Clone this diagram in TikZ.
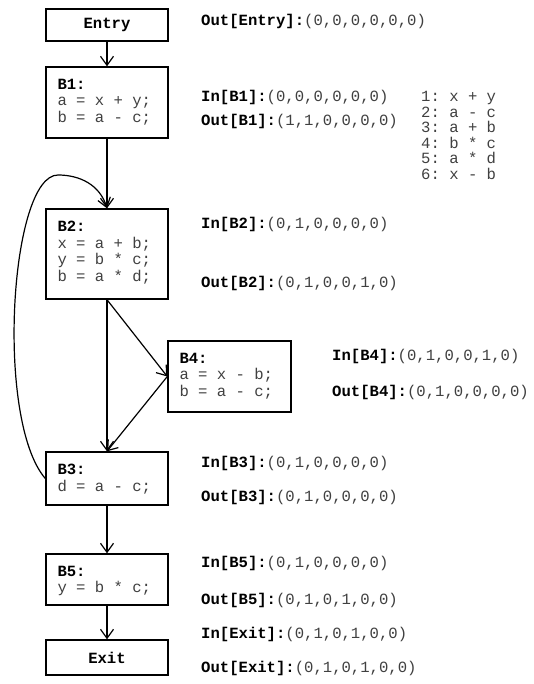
\documentclass[tikz,border=0pt]{standalone}
\usepackage{fontspec}
\setmonofont{Liberation Mono}
\usetikzlibrary{arrows.meta}
\newcommand\codefnt{\ttfamily\fontsize{15.6}{16.6}\selectfont}
\newcommand\lbl[1]{\textcolor{black}{\textbf{#1}}}
\tikzset{
  blk/.style={draw, line width=1.4pt, minimum width=122pt, inner sep=0, font=\codefnt},
  txt/.style={font=\codefnt, align=left, inner sep=0, anchor=north west, text=black!75},
  lab/.style={font=\codefnt, inner sep=0, anchor=west, text=black!75},
  arr/.style={-{Straight Barb[length=9pt,width=13pt,line width=1.2pt]}, line width=1.2pt}
}
\begin{document}
\begin{tikzpicture}[x=1pt,y=1pt]
\useasboundingbox (0,0) rectangle (533,-684);
% boxes
\node[blk, minimum height=32pt] (entry) at (107,-25) {\lbl{Entry}};
\node[blk, minimum height=71pt] (B1) at (107,-102.5) {};
\node[blk, minimum height=90pt] (B2) at (107,-254) {};
\node[blk, minimum height=71pt, minimum width=123pt] (B4) at (229.5,-376.5) {};
\node[blk, minimum height=53pt] (B3) at (107,-478.5) {};
\node[blk, minimum height=51pt] (B5) at (107,-579.5) {};
\node[blk, minimum height=35pt] (exit) at (107,-657.5) {\lbl{Exit}};
% box contents
\node[txt, xshift=12pt, yshift=-12.5pt] (B1t) at (B1.north west) {\lbl{B1:}\\a = x + y;\\b = a - c;};
\node[txt, xshift=12pt, yshift=-12.5pt] (B2t) at (B2.north west) {\lbl{B2:}\\x = a + b;\\y = b * c;\\b = a * d;};
\node[txt, xshift=12pt, yshift=-12.5pt] (B4t) at (B4.north west) {\lbl{B4:}\\a = x - b;\\b = a - c;};
\node[txt, xshift=12pt, yshift=-12.5pt] (B3t) at (B3.north west) {\lbl{B3:}\\d = a - c;};
\node[txt, xshift=12pt, yshift=-12.5pt] (B5t) at (B5.north west) {\lbl{B5:}\\y = b * c;};
% labels
\node[lab] (oEntry) at (201,-21) {\lbl{Out[Entry]:}(0,0,0,0,0,0)};
\node[lab] (iB1) at (201,-97) {\lbl{In[B1]:}(0,0,0,0,0,0)};
\node[lab] (oB1) at (201,-121) {\lbl{Out[B1]:}(1,1,0,0,0,0)};
\node[lab] (iB2) at (201,-224) {\lbl{In[B2]:}(0,1,0,0,0,0)};
\node[lab] (oB2) at (201,-283) {\lbl{Out[B2]:}(0,1,0,0,1,0)};
\node[lab] (iB4) at (332,-356) {\lbl{In[B4]:}(0,1,0,0,1,0)};
\node[lab] (oB4) at (332,-392) {\lbl{Out[B4]:}(0,1,0,0,0,0)};
\node[lab] (iB3) at (201,-463) {\lbl{In[B3]:}(0,1,0,0,0,0)};
\node[lab] (oB3) at (201,-497) {\lbl{Out[B3]:}(0,1,0,0,0,0)};
\node[lab] (iB5) at (201,-563) {\lbl{In[B5]:}(0,1,0,0,0,0)};
\node[lab] (oB5) at (201,-600) {\lbl{Out[B5]:}(0,1,0,1,0,0)};
\node[lab] (iExit) at (201,-634) {\lbl{In[Exit]:}(0,1,0,1,0,0)};
\node[lab] (oExit) at (201,-668) {\lbl{Out[Exit]:}(0,1,0,1,0,0)};
% legend
\node[txt, font=\ttfamily\fontsize{15.6}{15.6}\selectfont] (legend) at (421,-91) {1: x + y\\2: a - c\\3: a + b\\4: b * c\\5: a * d\\6: x - b};
% edges
\draw[arr] (entry) -- (B1);
\draw[arr] (B1) -- (B2);
\draw[arr] (B2) -- (B3);
\draw[arr] (B2.south) -- (B4.west);
\draw[arr] (B4.west) -- (B3.north);
\draw[arr] (B3) -- (B5);
\draw[arr] (B5) -- (exit);
\draw[arr] (B3.west) .. controls (-5,-420) and (10,-175) .. (58,-175) .. controls (80,-175) and (100,-185) .. (B2.north);
\end{tikzpicture}
\end{document}
